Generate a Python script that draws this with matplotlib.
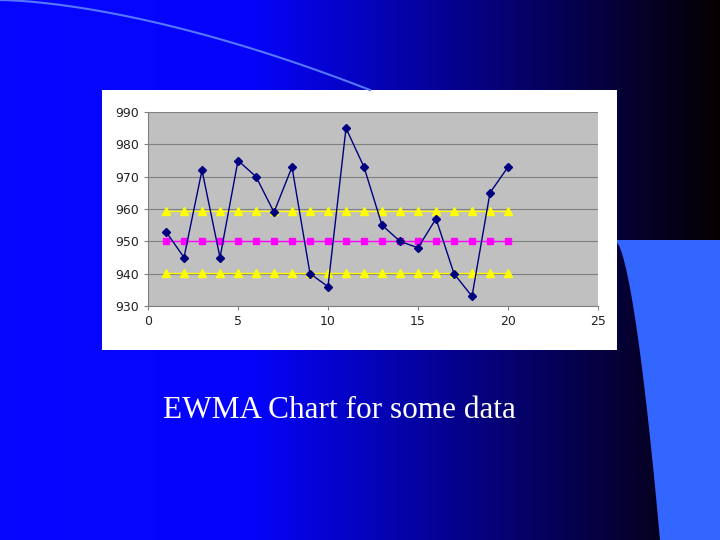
import numpy as np
import matplotlib
matplotlib.use('agg')
import matplotlib.pyplot as plt
from matplotlib.patches import Rectangle, Polygon

x = list(range(1, 21))
values = [953, 945, 972, 945, 975, 970, 959, 973, 940, 936,
          985, 973, 955, 950, 948, 957, 940, 933, 965, 973]
center = [950] * 20
ucl = [959.4] * 20
lcl = [940.3] * 20

fig = plt.figure(figsize=(7.2, 5.4), dpi=100)

# slide background: blue to black gradient
bg = fig.add_axes([0, 0, 1, 1])
grad = np.linspace(0, 1, 256)
r = np.zeros((2, 256)); g = np.zeros((2, 256))
b = np.clip(1.0 - np.maximum(grad - 0.35, 0) / 0.65, 0, 1)[None, :].repeat(2, 0) * 0.95 + 0.05 * (1 - grad)
img = np.dstack([r + 0.02, g + 0.02 * (1 - grad), b])
bg.imshow(img, extent=[0, 720, 0, 540], aspect='auto')
# light blue shape at right
t = np.linspace(0, 1, 50)
cx = 615 + 45 * t ** 0.6
cy = 540 - (240 + 300 * t)
pts = list(zip(cx, cy)) + [(720, 0), (720, 300)]
bg.add_patch(Polygon(pts, closed=True, color='#3366ff', lw=0))
# thin arc at top
ax_ = np.linspace(0, 370, 100)
bg.plot(ax_, 540 - (0 + 90 * (ax_ / 370) ** 1.6), color='#5577ff', lw=1.5)
bg.add_patch(Rectangle((102, 190), 515, 260, color='white', lw=0))
bg.set_xlim(0, 720); bg.set_ylim(0, 540)
bg.axis('off')

fig.text(163, 540 - 410, 'EWMA Chart for some data', transform=None,
         fontsize=22.5, family='Liberation Serif', color='white', va='center')

ax = fig.add_axes([148 / 720, 234 / 540, 450 / 720, 194 / 540])
ax.set_facecolor('#c0c0c0')
ax.plot(x, ucl, color='yellow', marker='^', ms=5.5, lw=1)
ax.plot(x, lcl, color='yellow', marker='^', ms=5.5, lw=1)
ax.plot(x, center, color='#ff00ff', marker='s', ms=4.5, lw=1)
ax.plot(x, values, color='#000080', marker='D', ms=4, lw=1)
ax.set_xlim(0, 25); ax.set_ylim(930, 990)
ax.set_xticks(range(0, 26, 5)); ax.set_yticks(range(930, 991, 10))
ax.yaxis.grid(True, color='#808080', lw=0.8)
ax.set_axisbelow(True)
for s in ['top', 'right']:
    ax.spines[s].set_visible(False)
for s in ['left', 'bottom']:
    ax.spines[s].set_color('#808080')
ax.tick_params(labelsize=9, colors='#222222', length=3)
ax.tick_params(axis='both', color='#808080')

fig.savefig('out.png', dpi=100)
